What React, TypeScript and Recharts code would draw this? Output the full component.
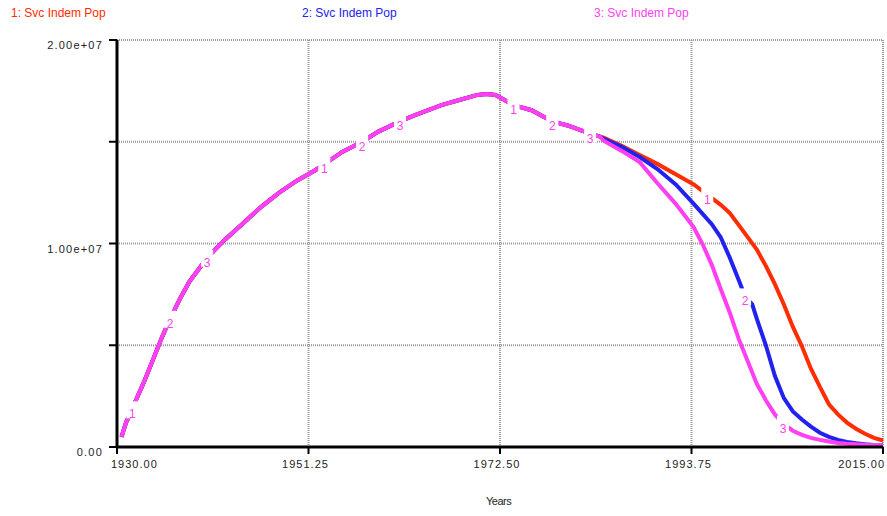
import React from "react";
import {
  LineChart,
  Line,
  XAxis,
  YAxis,
  CartesianGrid,
} from "recharts";

// shared part of all three runs (values in millions)
const commonYears = [
  1930.5, 1931, 1931.7, 1932, 1933, 1934, 1935, 1935.9, 1937, 1938, 1940, 1942,
  1944, 1946, 1948, 1950, 1952, 1953, 1955, 1957.2, 1959, 1961.4, 1963, 1966,
  1968, 1970, 1971, 1972, 1973, 1974, 1976, 1978.3, 1980, 1982.5, 1983.6,
];
const commonVals = [
  0.5, 1.2, 1.85, 2.2, 3.2, 4.3, 5.4, 6.3, 7.3, 8.1, 9.3, 10.2, 11.0, 11.8,
  12.5, 13.1, 13.6, 13.9, 14.5, 15.0, 15.5, 16.0, 16.3, 16.8, 17.05, 17.3,
  17.35, 17.3, 17.05, 16.8, 16.55, 16.0, 15.8, 15.4, 15.25,
];

const run1Years = [
  1984, 1986, 1988, 1990, 1992, 1994, 1995.5, 1997, 1998, 1999, 2000, 2001,
  2002, 2003, 2004, 2005, 2006, 2007, 2008, 2009, 2010, 2011, 2012, 2013, 2014,
  2015,
];
const run1Vals = [
  15.2, 14.8, 14.35, 13.9, 13.4, 12.9, 12.4, 11.9, 11.5, 10.9, 10.3, 9.7, 8.9,
  8.0, 7.0, 5.9, 4.95, 3.85, 2.95, 2.1, 1.6, 1.2, 0.9, 0.65, 0.45, 0.32,
];

const run2Years = [
  1984, 1986, 1988, 1990, 1992, 1994, 1996, 1997, 1998, 1999, 1999.7, 2000.5,
  2001, 2002, 2003, 2004, 2005, 2006, 2007, 2008, 2009, 2010, 2011, 2012, 2013,
  2014, 2015,
];
const run2Vals = [
  15.15, 14.75, 14.25, 13.65, 12.9, 11.95, 10.95, 10.3, 9.3, 8.2, 7.4, 7.0, 6.3,
  5.0, 3.5, 2.4, 1.75, 1.35, 1.0, 0.7, 0.5, 0.35, 0.25, 0.18, 0.13, 0.1, 0.08,
];

const run3Years = [
  1984, 1986, 1988, 1990, 1992, 1994, 1995, 1996, 1997, 1998, 1999, 2000, 2001,
  2002, 2003, 2003.9, 2005, 2006, 2007, 2008, 2009, 2010, 2011, 2012, 2013,
  2014, 2015,
];
const run3Vals = [
  15.05, 14.55, 14.0, 12.95, 11.95, 10.8, 9.95, 8.95, 7.75, 6.6, 5.3, 4.2, 3.1,
  2.3, 1.6, 1.15, 0.8, 0.6, 0.45, 0.35, 0.27, 0.2, 0.16, 0.13, 0.11, 0.1, 0.08,
];

// where the run numbers sit on each curve
const run1Labels = [1931.7, 1953, 1974, 1995.5];
const run2Labels = [1935.9, 1957.2, 1978.3, 1999.7];
const run3Labels = [1940, 1961.4, 1982.5, 2003.9];

const xTicks = [1930, 1951.25, 1972.5, 1993.75, 2015];
const yTicks = [0, 5e6, 1e7, 1.5e7, 2e7];
const yLabeled = [0, 1e7, 2e7];

const RED = "#ff2d00";
const BLUE = "#2222f0";
const PINK = "#ff3ff0";
const FONT = "'Liberation Sans', Arial, sans-serif";

const build = (years: number[], vals: number[]) =>
  years.map((y, i) => ({ year: y, value: vals[i] * 1e6 }));

const series1 = [...build(commonYears, commonVals), ...build(run1Years, run1Vals)];
const series2 = [...build(commonYears, commonVals), ...build(run2Years, run2Vals)];
const series3 = [...build(commonYears, commonVals), ...build(run3Years, run3Vals)];

const labelDot = (years: number[], text: string) => (props: any) => {
  const { cx, cy, payload, index } = props;
  if (!years.includes(payload.year)) return <g key={`n-${index}`} />;
  return (
    <g key={`l-${index}`}>
      <rect x={cx - 6} y={cy - 8} width={12} height={17} fill="#fff" />
      <text
        x={cx}
        y={cy + 9}
        textAnchor="middle"
        fontSize={12}
        fontFamily={FONT}
        fill={PINK}
      >
        {text}
      </text>
    </g>
  );
};

const XTick = (props: any) => {
  const { x, y, payload, index } = props;
  const last = index === xTicks.length - 1;
  const anchor = index === 0 ? "start" : last ? "end" : "middle";
  const dx = index === 0 ? -6 : last ? 2 : -3;
  return (
    <text
      x={x + dx}
      y={y + 12}
      textAnchor={anchor}
      fontSize={11}
      letterSpacing={1}
      fontFamily={FONT}
      fill="#222"
    >
      {payload.value.toFixed(2)}
    </text>
  );
};

const YTick = (props: any) => {
  const { x, y, payload } = props;
  if (!yLabeled.includes(payload.value)) return <g />;
  const label =
    payload.value === 0
      ? "0.00"
      : payload.value.toExponential(2).replace("e+7", "e+07");
  return (
    <text
      x={x + 2}
      y={y + 9}
      textAnchor="end"
      fontSize={11}
      letterSpacing={1.2}
      fontFamily={FONT}
      fill="#222"
    >
      {label}
    </text>
  );
};

const legendStyle = (left: number, color: string): React.CSSProperties => ({
  position: "absolute",
  left,
  top: 6,
  fontSize: 12,
  fontFamily: FONT,
  color,
  whiteSpace: "nowrap",
});

export default function App() {
  return (
    <div
      style={{
        position: "absolute",
        left: 0,
        top: 0,
        width: 887,
        height: 516,
        background: "#fff",
      }}
    >
      <div style={legendStyle(11, RED)}>1: Svc Indem Pop</div>
      <div style={legendStyle(302, BLUE)}>2: Svc Indem Pop</div>
      <div style={legendStyle(594, PINK)}>3: Svc Indem Pop</div>
      <div
        style={{
          position: "absolute",
          left: 486,
          top: 495,
          fontSize: 11,
          fontFamily: FONT,
          letterSpacing: -0.5,
          color: "#222",
        }}
      >
        Years
      </div>
      <LineChart
        width={887}
        height={516}
        margin={{ top: 40, right: 4, left: 0, bottom: 19 }}
      >
        <CartesianGrid
          stroke="#999"
          strokeWidth={2}
          strokeDasharray="1 1"
        />
        <XAxis
          type="number"
          dataKey="year"
          domain={[1930, 2015]}
          ticks={xTicks}
          interval={0}
          height={50}
          axisLine={{ stroke: "#000", strokeWidth: 3 }}
          tickLine={{ stroke: "#000", strokeWidth: 2 }}
          tickSize={7}
          tickMargin={2}
          tick={<XTick />}
          allowDuplicatedCategory={false}
        />
        <YAxis
          type="number"
          domain={[0, 2e7]}
          ticks={yTicks}
          interval={0}
          width={117}
          axisLine={{ stroke: "#000", strokeWidth: 3 }}
          tickLine={{ stroke: "#000", strokeWidth: 2 }}
          tickSize={8}
          tickMargin={8}
          tick={<YTick />}
        />
        <Line
          data={series1}
          dataKey="value"
          type="linear"
          stroke={RED}
          strokeWidth={4}
          dot={false}
          isAnimationActive={false}
        />
        <Line
          data={series2}
          dataKey="value"
          type="linear"
          stroke={BLUE}
          strokeWidth={4}
          dot={false}
          isAnimationActive={false}
        />
        <Line
          data={series3}
          dataKey="value"
          type="linear"
          stroke={PINK}
          strokeWidth={4}
          dot={false}
          isAnimationActive={false}
        />
        <Line
          data={series1}
          dataKey="value"
          stroke="none"
          dot={labelDot(run1Labels, "1")}
          isAnimationActive={false}
        />
        <Line
          data={series2}
          dataKey="value"
          stroke="none"
          dot={labelDot(run2Labels, "2")}
          isAnimationActive={false}
        />
        <Line
          data={series3}
          dataKey="value"
          stroke="none"
          dot={labelDot(run3Labels, "3")}
          isAnimationActive={false}
        />
      </LineChart>
    </div>
  );
}
